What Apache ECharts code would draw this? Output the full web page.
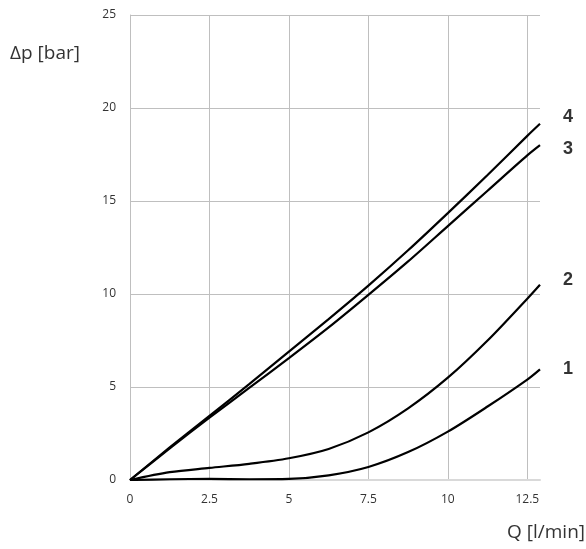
<!DOCTYPE html>
<html>
<head>
<meta charset="utf-8">
<script src="https://cdn.jsdelivr.net/npm/echarts@6/dist/echarts.min.js"></script>
<style>html,body{margin:0;padding:0;background:#fff;}#c{width:586px;height:549px;}</style>
</head>
<body>
<div id="c"></div>
<script>
const flowQ = [0, 1.25, 2.5, 3.75, 5, 6.25, 7.5, 8.75, 10, 11.25, 12.5, 12.9];
const curve1 = [0, 0.04, 0.06, 0.04, 0.06, 0.25, 0.7, 1.5, 2.6, 3.95, 5.4, 5.95];
const curve2 = [0, 0.42, 0.65, 0.87, 1.17, 1.67, 2.56, 3.85, 5.5, 7.5, 9.75, 10.5];
const curve3 = [0, 1.7, 3.35, 4.95, 6.55, 8.2, 9.95, 11.75, 13.65, 15.55, 17.45, 18.0];
const curve4 = [0, 1.75, 3.45, 5.15, 6.9, 8.65, 10.45, 12.35, 14.35, 16.4, 18.5, 19.15];
const curveNames = ['1', '2', '3', '4'];
const xTicks = [0, 2.5, 5, 7.5, 10, 12.5];
const yTicks = [0, 5, 10, 15, 20, 25];
const xAxisTitle = 'Q [l/min]';
const yAxisTitle = 'Δp [bar]';

const curves = [curve1, curve2, curve3, curve4];
const labelOffsets = [[15, 0], [15, -5], [15, 4], [15, -7]];

const chart = echarts.init(document.getElementById('c'), null, {renderer: 'canvas'});
chart.setOption({
  animation: false,
  backgroundColor: '#fff',
  grid: {left: 130, right: 46, top: 15, bottom: 69, containLabel: false},
  xAxis: {
    type: 'value', min: xTicks[0], max: flowQ[flowQ.length - 1], interval: xTicks[1] - xTicks[0],
    axisLine: {show: true, onZero: false, lineStyle: {color: '#d9d9d9', width: 2}},
    axisTick: {show: false},
    axisLabel: {
      margin: 14, color: '#333', fontFamily: 'Open Sans', fontSize: 12,
      showMaxLabel: false,
      formatter: v => xTicks.indexOf(+v.toFixed(2)) >= 0 ? String(v) : ''
    },
    splitLine: {show: true, showMinLine: false, showMaxLine: false, lineStyle: {color: '#bfbfbf', width: 1}}
  },
  yAxis: {
    type: 'value', min: yTicks[0], max: yTicks[yTicks.length - 1], interval: yTicks[1] - yTicks[0],
    axisLine: {show: true, lineStyle: {color: '#bfbfbf', width: 1}},
    axisTick: {show: false},
    axisLabel: {margin: 14, color: '#333', fontFamily: 'Open Sans', fontSize: 12},
    splitLine: {show: true, lineStyle: {color: '#bfbfbf', width: 1}}
  },
  graphic: [
    {type: 'text', left: 10, top: 44, style: {text: yAxisTitle, fontFamily: 'Open Sans', fontSize: 19, fill: '#333'}},
    {type: 'text', right: 1, top: 523, style: {text: xAxisTitle, fontFamily: 'Open Sans', fontSize: 19, fill: '#333'}}
  ],
  series: curves.map((c, i) => ({
    type: 'line',
    name: curveNames[i],
    data: flowQ.map((q, j) => [q, c[j]]),
    smooth: 0.3,
    showSymbol: false,
    lineStyle: {color: '#000', width: 2.2},
    endLabel: {
      show: true, formatter: curveNames[i], offset: labelOffsets[i],
      fontFamily: 'Liberation Sans', fontWeight: 'bold', fontSize: 18, color: '#333'
    },
    z: 3
  }))
});
</script>
</body>
</html>
